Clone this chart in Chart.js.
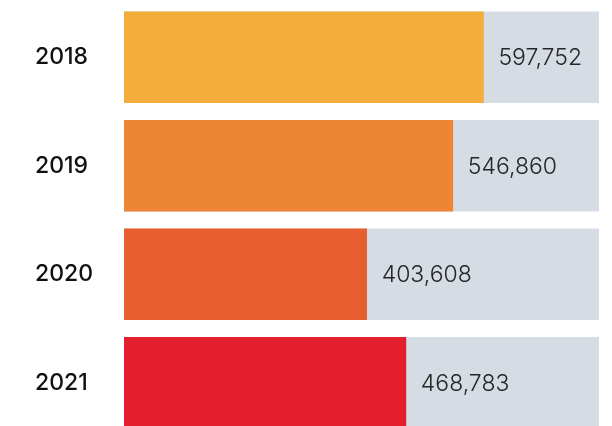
<!DOCTYPE html>
<html>
<head>
<meta charset="utf-8">
<script src="https://cdn.jsdelivr.net/npm/chart.js@4"></script>
<style>
  html, body { margin: 0; padding: 0; background: #fff; overflow: hidden; }
  #grafica { display: block; }
</style>
</head>
<body>
<canvas id="grafica" width="612" height="440"></canvas>
<script>
// datos del gráfico
const anios = ["2018", "2019", "2020", "2021"];
const valores = [597752, 546860, 403608, 468783];
const fondo = [790000, 790000, 790000, 790000]; // pista gris detrás de cada barra
const coloresBarras = ["#F4AD3A", "#EE8534", "#E85E30", "#E31F2D"];
const escalaMax = 790000;

// etiquetas de valor a la derecha de cada barra
const etiquetasValor = {
  id: "etiquetasValor",
  afterDatasetsDraw(chart) {
    const ctx = chart.ctx;
    const meta = chart.getDatasetMeta(0);
    ctx.save();
    ctx.font = "300 23px Inter, 'Open Sans', sans-serif";
    ctx.fillStyle = "#262626";
    ctx.textAlign = "left";
    ctx.textBaseline = "middle";
    meta.data.forEach((barra, i) => {
      ctx.fillText(valores[i].toLocaleString("en-US"), barra.x + 15, barra.y + 1);
    });
    ctx.restore();
  }
};

const ctx = document.getElementById("grafica").getContext("2d");

new Chart(ctx, {
  type: "bar",
  data: {
    labels: anios,
    datasets: [
      {
        data: valores,
        backgroundColor: coloresBarras,
        barThickness: 91,
        grouped: false,
        order: 1
      },
      {
        data: fondo,
        backgroundColor: "#D6DCE4",
        barThickness: 91,
        grouped: false,
        order: 2
      }
    ]
  },
  options: {
    indexAxis: "y",
    responsive: false,
    animation: false,
    layout: { padding: { left: 35, right: 13, top: 3, bottom: 3 } },
    plugins: {
      legend: { display: false },
      tooltip: { enabled: false }
    },
    scales: {
      x: { display: false, min: 0, max: escalaMax },
      y: {
        afterFit(axis) {
          axis.width = 89;
          // sin relleno extra arriba/abajo por las etiquetas
          axis.paddingTop = 0;
          axis.paddingBottom = 0;
        },
        grid: { display: false },
        border: { display: false },
        ticks: {
          crossAlign: "far",
          padding: 0,
          color: "#111",
          font: { family: "Inter, 'Open Sans', sans-serif", size: 23, weight: "500" }
        }
      }
    }
  },
  plugins: [etiquetasValor]
});
</script>
</body>
</html>
